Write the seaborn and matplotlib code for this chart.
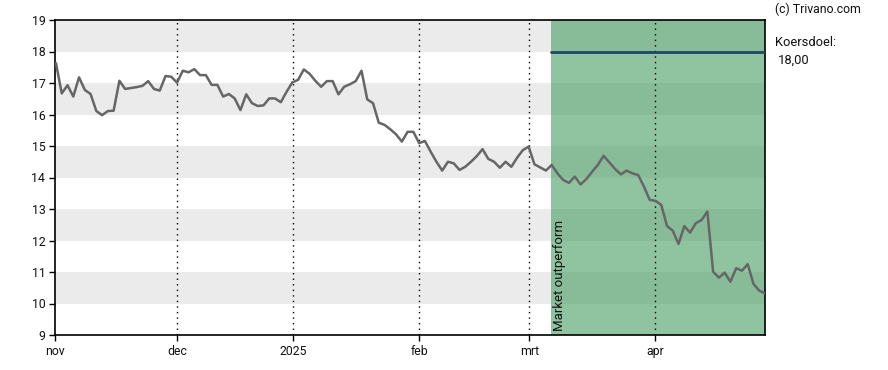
import matplotlib
matplotlib.use("Agg")
import matplotlib.pyplot as plt
import seaborn as sns
import numpy as np
import pandas as pd

# ---- data ----
prices = [
    17.63, 16.67, 16.93, 16.57, 17.18, 16.78, 16.65, 16.11, 15.98, 16.11,
    16.12, 17.07, 16.81, 16.84, 16.87, 16.91, 17.06, 16.81, 16.76, 17.22,
    17.20, 17.01, 17.39, 17.34, 17.44, 17.25, 17.25, 16.94, 16.94, 16.57,
    16.65, 16.51, 16.14, 16.64, 16.36, 16.27, 16.29, 16.51, 16.51, 16.39,
    16.72, 17.02, 17.10, 17.43, 17.29, 17.07, 16.88, 17.06, 17.06, 16.64,
    16.88, 16.96, 17.06, 17.39, 16.48, 16.36, 15.74, 15.67, 15.53, 15.37,
    15.14, 15.45, 15.45, 15.09, 15.16, 14.82, 14.50, 14.22, 14.50, 14.45,
    14.24, 14.34, 14.50, 14.68, 14.90, 14.59, 14.50, 14.31, 14.50, 14.34,
    14.63, 14.87, 14.98, 14.42, 14.32, 14.22, 14.40, 14.13, 13.92, 13.83,
    14.03, 13.78, 13.95, 14.18, 14.40, 14.69, 14.48, 14.27, 14.10, 14.22,
    14.13, 14.08, 13.71, 13.29, 13.26, 13.13, 12.46, 12.31, 11.89, 12.46,
    12.25, 12.55, 12.65, 12.92, 11.01, 10.82, 10.98, 10.69, 11.12, 11.04,
    11.25, 10.62, 10.41, 10.32,
]
day_index = list(range(len(prices)))
month_labels = ["nov", "dec", "2025", "feb", "mrt", "apr"]
month_positions = [-0.17, 21.0, 41.1, 63.0, 82.1, 103.9]
y_ticks = [9, 10, 11, 12, 13, 14, 15, 16, 17, 18, 19]
target_price = 18.00
target_start = 85.9
target_label = "Koersdoel:"
target_text = "18,00"
rating_text = "Market outperform"
copyright_text = "(c) Trivano.com"

df = pd.DataFrame({"idx": day_index, "price": prices})

sns.set_theme(style="white")
plt.rcParams["font.family"] = ["Roboto", "DejaVu Sans"]

fig = plt.figure(figsize=(8.88, 3.70), dpi=100)
ax = fig.add_axes([55 / 888, 1 - 335 / 370, (765 - 55) / 888, (335 - 20) / 370])

x_min, x_max = -0.17, 123.0
ax.set_xlim(x_min, x_max)
ax.set_ylim(9, 19)

# gray bands
for lo in [10, 12, 14, 16, 18]:
    ax.axhspan(lo, lo + 1, color="#ebebeb", lw=0, zorder=0)

# green rating region
ax.axvspan(target_start, x_max, color="#469d61", alpha=0.6, lw=0, zorder=1)

# vertical dotted month lines
for p in month_positions[1:]:
    ax.axvline(p, color="black", ls=(0, (1, 3)), lw=1.0, zorder=2)

# price line
sns.lineplot(data=df, x="idx", y="price", ax=ax, color="#666666", lw=1.8, zorder=4)

# target line
ax.plot([target_start, x_max], [target_price, target_price], color="#1d4766", lw=2.0, zorder=5)

ax.text(target_start + 0.3, 9.12, rating_text, rotation=90, ha="left", va="bottom",
        fontsize=9.5, color="#111111", zorder=6)

ax.set_xticks(month_positions)
ax.set_xticklabels(month_labels)
ax.set_yticks(y_ticks)
ax.set_xlabel("")
ax.set_ylabel("")
ax.tick_params(axis="both", which="major", labelsize=8.8, length=4, width=1,
               color="black", labelcolor="#111111", direction="out",
               bottom=True, left=True, pad=3)
for s in ax.spines.values():
    s.set_color("black")
    s.set_linewidth(1.2)
    s.set_visible(True)

fig.text(775 / 888, 1 - 9 / 370, copyright_text, ha="left", va="center", fontsize=8.8, color="#111111")
fig.text(775 / 888, 1 - 43 / 370, target_label, ha="left", va="center", fontsize=9.3, color="#111111")
fig.text(778 / 888, 1 - 60 / 370, target_text, ha="left", va="center", fontsize=9.3, color="#111111")

fig.savefig("out.png", dpi=100)
